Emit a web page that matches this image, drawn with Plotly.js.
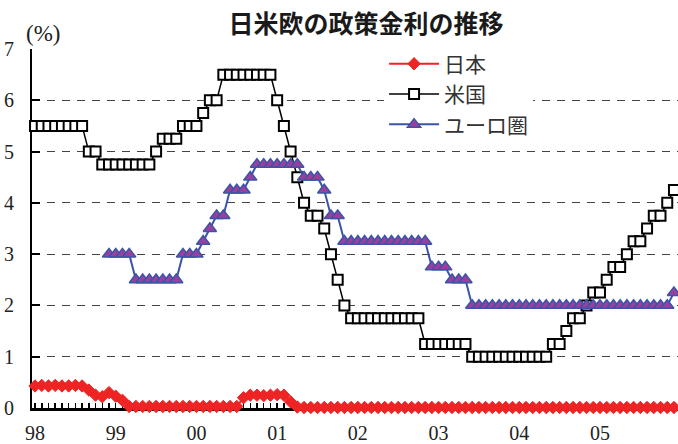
<!DOCTYPE html>
<html><head><meta charset="utf-8">
<script src="https://cdn.plot.ly/plotly-3.0.1.min.js"></script>
<style>html,body{margin:0;padding:0;background:#fff}#chart{width:678px;height:444px}</style>
</head><body><div id="chart"></div>
<script>
const title = '日米欧の政策金利の推移';
const seriesNames = ['日本', '米国', 'ユーロ圏'];
const yearLabels = ['98', '99', '00', '01', '02', '03', '04', '05'];

// monthly, Jan 1998 - Dec 2005
const japan = [
  0.43, 0.44, 0.43, 0.44, 0.43, 0.43, 0.44, 0.43, 0.35, 0.25, 0.22, 0.30,
  0.23, 0.15, 0.03, 0.03, 0.03, 0.03, 0.03, 0.03, 0.03, 0.03, 0.03, 0.03,
  0.03, 0.03, 0.03, 0.03, 0.03, 0.03, 0.03, 0.20, 0.25, 0.25, 0.24, 0.25,
  0.26, 0.25, 0.12, 0.02, 0.01, 0.01, 0.01, 0.01, 0.01, 0.01, 0.01, 0.01,
  0.01, 0.01, 0.01, 0.01, 0.01, 0.01, 0.01, 0.01, 0.01, 0.01, 0.01, 0.01,
  0.01, 0.01, 0.01, 0.01, 0.01, 0.01, 0.01, 0.01, 0.01, 0.01, 0.01, 0.01,
  0.01, 0.01, 0.01, 0.01, 0.01, 0.01, 0.01, 0.01, 0.01, 0.01, 0.01, 0.01,
  0.01, 0.01, 0.01, 0.01, 0.01, 0.01, 0.01, 0.01, 0.01, 0.01, 0.01, 0.01
];
const usa = [
  5.5, 5.5, 5.5, 5.5, 5.5, 5.5, 5.5, 5.5, 5.0, 5.0, 4.75, 4.75,
  4.75, 4.75, 4.75, 4.75, 4.75, 4.75, 5.0, 5.25, 5.25, 5.25, 5.5, 5.5,
  5.5, 5.75, 6.0, 6.0, 6.5, 6.5, 6.5, 6.5, 6.5, 6.5, 6.5, 6.5,
  6.0, 5.5, 5.0, 4.5, 4.0, 3.75, 3.75, 3.5, 3.0, 2.5, 2.0, 1.75,
  1.75, 1.75, 1.75, 1.75, 1.75, 1.75, 1.75, 1.75, 1.75, 1.75, 1.25, 1.25,
  1.25, 1.25, 1.25, 1.25, 1.25, 1.0, 1.0, 1.0, 1.0, 1.0, 1.0, 1.0,
  1.0, 1.0, 1.0, 1.0, 1.0, 1.25, 1.25, 1.5, 1.75, 1.75, 2.0, 2.25,
  2.25, 2.5, 2.75, 2.75, 3.0, 3.25, 3.25, 3.5, 3.75, 3.75, 4.0, 4.25
];
const euro = [
  null, null, null, null, null, null, null, null, null, null, null, 3.0,
  3.0, 3.0, 3.0, 2.5, 2.5, 2.5, 2.5, 2.5, 2.5, 2.5, 3.0, 3.0,
  3.0, 3.25, 3.5, 3.75, 3.75, 4.25, 4.25, 4.25, 4.5, 4.75, 4.75, 4.75,
  4.75, 4.75, 4.75, 4.75, 4.5, 4.5, 4.5, 4.25, 3.75, 3.75, 3.25, 3.25,
  3.25, 3.25, 3.25, 3.25, 3.25, 3.25, 3.25, 3.25, 3.25, 3.25, 3.25, 2.75,
  2.75, 2.75, 2.5, 2.5, 2.5, 2.0, 2.0, 2.0, 2.0, 2.0, 2.0, 2.0,
  2.0, 2.0, 2.0, 2.0, 2.0, 2.0, 2.0, 2.0, 2.0, 2.0, 2.0, 2.0,
  2.0, 2.0, 2.0, 2.0, 2.0, 2.0, 2.0, 2.0, 2.0, 2.0, 2.0, 2.25
];

const monthIdx = usa.map((_, i) => i);
const yearTickVals = yearLabels.map((_, k) => k * 12);

const traces = [
  {
    name: seriesNames[0], x: monthIdx, y: japan, type: 'scatter', mode: 'lines+markers',
    line: {color: '#EE2424', width: 2},
    marker: {symbol: 'diamond', size: 9.5, color: '#EE2424', line: {color: '#EE2424', width: 1}},
    cliponaxis: false
  },
  {
    name: seriesNames[1], x: monthIdx, y: usa, type: 'scatter', mode: 'lines+markers',
    line: {color: '#000000', width: 1.5},
    marker: {symbol: 'square', size: 10, color: '#ffffff', line: {color: '#000000', width: 2}},
    cliponaxis: false
  },
  {
    name: seriesNames[2], x: monthIdx, y: euro, type: 'scatter', mode: 'lines+markers',
    line: {color: '#3A55A8', width: 2},
    marker: {symbol: 'triangle-up', size: 11.5, color: '#9A3F9E', line: {color: '#3A55A8', width: 1.5}},
    cliponaxis: false
  }
];

const layout = {
  width: 678, height: 444,
  margin: {l: 32, r: 0, t: 49, b: 36, pad: 0},
  paper_bgcolor: '#ffffff', plot_bgcolor: '#ffffff',
  showlegend: true,
  title: {
    text: title, x: 366 / 678, xref: 'container', xanchor: 'center',
    y: 1 - 24 / 444, yref: 'container', yanchor: 'middle',
    font: {family: 'Noto Sans CJK JP', size: 25, color: '#1a1a1a', weight: 'bold'}
  },
  legend: {
    x: 0.545, y: 1.015, xanchor: 'left', yanchor: 'top',
    bgcolor: '#ffffff', borderwidth: 0,
    font: {family: 'Noto Sans CJK JP', size: 21, color: '#333333'},
    itemwidth: 50, tracegroupgap: 0
  },
  xaxis: {
    range: [-0.45, 95.6], showgrid: false, zeroline: false,
    showline: true, linecolor: '#000', linewidth: 2.5,
    tickvals: yearTickVals, ticktext: yearLabels,
    ticks: 'inside', ticklen: 5, tickwidth: 1.5, tickcolor: '#000',
    minor: {dtick: 1, tick0: 0, ticks: 'inside', ticklen: 5, tickwidth: 1.5, tickcolor: '#000', showgrid: false},
    tickfont: {family: 'Liberation Serif', size: 20, color: '#222'},
    ticklabelstandoff: 5,
    layer: 'below traces', fixedrange: true
  },
  yaxis: {
    range: [0, 7], dtick: 1, tick0: 0,
    showgrid: true, gridcolor: '#444', gridwidth: 1, griddash: '8px,7px',
    zeroline: false, showline: true, linecolor: '#000', linewidth: 2,
    ticks: 'inside', ticklen: 8, tickwidth: 2, tickcolor: '#000',
    tickfont: {family: 'Liberation Serif', size: 20, color: '#222'},
    ticklabelstandoff: 12,
    layer: 'below traces', fixedrange: true
  },
  annotations: [{
    text: '(%)', xref: 'paper', yref: 'paper', x: (43 - 32) / 646, y: (408 - 33) / 359,
    xanchor: 'center', yanchor: 'middle', showarrow: false,
    font: {family: 'Liberation Serif', size: 23, color: '#222'}
  }]
};

Plotly.newPlot('chart', traces, layout, {displayModeBar: false, staticPlot: true});
</script>
</body></html>
